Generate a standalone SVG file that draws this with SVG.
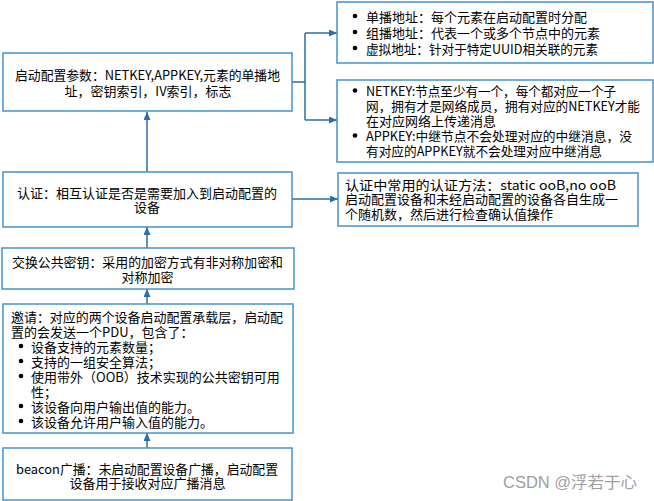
<svg xmlns="http://www.w3.org/2000/svg" width="654" height="501" viewBox="0 0 654 501">
<defs>
<style>
.box{fill:#fff;stroke:#4193d0;stroke-width:1.5}
.t{font-family:"Noto Sans CJK SC","Liberation Sans",sans-serif;font-size:13px;fill:#000;dominant-baseline:central}
.m{text-anchor:middle}
.c{fill:none;stroke:#2c6ea8;stroke-width:1.5}
.dot{fill:#000}
.wm{font-family:"Liberation Sans","Noto Sans CJK SC",sans-serif;font-size:16px;fill:#a0a0a0}
</style>
<marker id="ah" markerUnits="userSpaceOnUse" markerWidth="9" markerHeight="8" refX="8" refY="3.5" orient="auto">
<path d="M0,0 L8,3.5 L0,7 z" fill="#2c6ea8"/>
</marker>
</defs>
<rect width="654" height="501" fill="#fff"/>

<g id="connectors">
<path class="c" d="M147,172 V112" marker-end="url(#ah)"/>
<path class="c" d="M147,248 V227" marker-end="url(#ah)"/>
<path class="c" d="M147,304 V289" marker-end="url(#ah)"/>
<path class="c" d="M147,448 V433" marker-end="url(#ah)"/>
<path class="c" d="M292,82 H305 M305,33 V120"/>
<path class="c" d="M305,33 H337" marker-end="url(#ah)"/>
<path class="c" d="M305,120 H337" marker-end="url(#ah)"/>
<path class="c" d="M292,199 H338" marker-end="url(#ah)"/>
</g>

<g id="node-params">
<rect class="box" x="3" y="53" width="289" height="58"/>
<text class="t m" x="147.5" y="74" textLength="265" lengthAdjust="spacingAndGlyphs">启动配置参数：NETKEY,APPKEY,元素的单播地</text>
<text class="t m" x="148" y="90" textLength="167" lengthAdjust="spacingAndGlyphs">址，密钥索引，IV索引，标志</text>
</g>

<g id="node-auth">
<rect class="box" x="3" y="172" width="289" height="55"/>
<text class="t m" x="147" y="192">认证：相互认证是否是需要加入到启动配置的</text>
<text class="t m" x="147" y="206">设备</text>
</g>

<g id="node-exchange">
<rect class="box" x="2" y="248" width="292" height="41"/>
<text class="t m" x="147.5" y="261" textLength="271" lengthAdjust="spacingAndGlyphs">交换公共密钥：采用的加密方式有非对称加密和</text>
<text class="t m" x="147.5" y="276">对称加密</text>
</g>

<g id="node-invite">
<rect class="box" x="3" y="304" width="290" height="129"/>
<text class="t" x="11" y="316" textLength="272" lengthAdjust="spacingAndGlyphs">邀请：对应的两个设备启动配置承载层，启动配</text>
<text class="t" x="11" y="331">置的会发送一个PDU，包含了：</text>
<circle class="dot" cx="21" cy="346" r="2.3"/>
<text class="t" x="31" y="346">设备支持的元素数量；</text>
<circle class="dot" cx="21" cy="361" r="2.3"/>
<text class="t" x="31" y="361">支持的一组安全算法；</text>
<circle class="dot" cx="21" cy="376" r="2.3"/>
<text class="t" x="31" y="376">使用带外（OOB）技术实现的公共密钥可用</text>
<text class="t" x="31" y="391">性；</text>
<circle class="dot" cx="21" cy="406" r="2.3"/>
<text class="t" x="31" y="406">该设备向用户输出值的能力。</text>
<circle class="dot" cx="21" cy="421" r="2.3"/>
<text class="t" x="31" y="421">该设备允许用户输入值的能力。</text>
</g>

<g id="node-beacon">
<rect class="box" x="3" y="448" width="289" height="52"/>
<text class="t m" x="147" y="468" textLength="262" lengthAdjust="spacingAndGlyphs">beacon广播：未启动配置设备广播，启动配置</text>
<text class="t m" x="147.5" y="482">设备用于接收对应广播消息</text>
</g>

<g id="node-address">
<rect class="box" x="337" y="2" width="316" height="61"/>
<circle class="dot" cx="355" cy="16" r="2.3"/>
<text class="t" x="366" y="16">单播地址：每个元素在启动配置时分配</text>
<circle class="dot" cx="355" cy="32" r="2.3"/>
<text class="t" x="366" y="32">组播地址：代表一个或多个节点中的元素</text>
<circle class="dot" cx="355" cy="48" r="2.3"/>
<text class="t" x="366" y="48" textLength="232" lengthAdjust="spacingAndGlyphs">虚拟地址：针对于特定UUID相关联的元素</text>
</g>

<g id="node-keys">
<rect class="box" x="337" y="80" width="316" height="82"/>
<circle class="dot" cx="355" cy="90.5" r="2.3"/>
<text class="t" x="366" y="90.5" textLength="250" lengthAdjust="spacingAndGlyphs">NETKEY:节点至少有一个，每个都对应一个子</text>
<text class="t" x="366" y="105.5" textLength="274" lengthAdjust="spacingAndGlyphs">网，拥有才是网络成员，拥有对应的NETKEY才能</text>
<text class="t" x="366" y="120.5">在对应网络上传递消息</text>
<circle class="dot" cx="355" cy="135.5" r="2.3"/>
<text class="t" x="366" y="135.5" textLength="266" lengthAdjust="spacingAndGlyphs">APPKEY:中继节点不会处理对应的中继消息，没</text>
<text class="t" x="366" y="150.5" textLength="236" lengthAdjust="spacingAndGlyphs">有对应的APPKEY就不会处理对应中继消息</text>
</g>

<g id="node-authmethod">
<rect class="box" x="338" y="173" width="300" height="53"/>
<text class="t" x="345" y="184" textLength="271" lengthAdjust="spacingAndGlyphs">认证中常用的认证方法：static ooB,no ooB</text>
<text class="t" x="345" y="198.5">启动配置设备和未经启动配置的设备各自生成一</text>
<text class="t" x="345" y="213">个随机数，然后进行检查确认值操作</text>
</g>

<text class="wm" x="503" y="488" textLength="134" lengthAdjust="spacingAndGlyphs">CSDN @浮若于心</text>
</svg>
